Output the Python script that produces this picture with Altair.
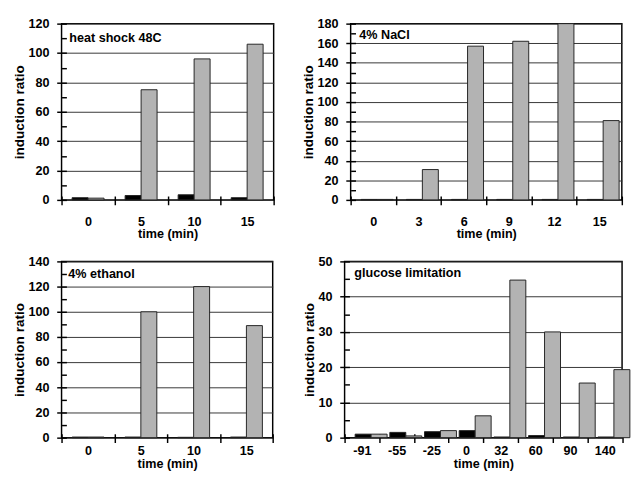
import altair as alt
import pandas as pd

FONT = "Liberation Sans"

# ---- data -------------------------------------------------------------
series_names = ["black", "gray"]

heat_times = ["0", "5", "10", "15"]
heat_black = [1.5, 3.0, 3.5, 1.5]
heat_gray = [1.2, 75, 96, 106]

nacl_times = ["0", "3", "6", "9", "12", "15"]
nacl_black = [0.5, 0.5, 0.5, 0.5, 0.5, 0.5]
nacl_gray = [0.5, 31, 157, 162, 180, 81]

eth_times = ["0", "5", "10", "15"]
eth_black = [0.5, 0.5, 0.3, 0.5]
eth_gray = [0.5, 100, 120, 89]

glc_times = ["-91", "-55", "-25", "0", "32", "60", "90", "140"]
glc_black = [1.0, 1.5, 1.7, 2.0, 0.2, 0.6, 0.2, 0.2]
glc_gray = [1.0, 0.5, 2.0, 6.2, 44.7, 30, 15.5, 19.3]

panel_titles = ["heat shock 48C", "4% NaCl", "4% ethanol", "glucose limitation"]


def frame(times, black, gray):
    rows = []
    for t, b, g in zip(times, black, gray):
        rows.append({"time": t, "series": series_names[0], "value": b})
        rows.append({"time": t, "series": series_names[1], "value": g})
    return pd.DataFrame(rows)


def panel(times, black, gray, title, ymax, ystep, width, height, pad_outer,
          label_pad, title_pad, lab_x, lab_y):
    df = frame(times, black, gray)
    half = ystep // 2
    ticks = list(range(0, ymax + 1, half))
    yscale = alt.Scale(domain=[0, ymax], nice=False, zero=True)
    x = alt.X(
        "time:N", sort=times, title="time (min)",
        scale=alt.Scale(paddingInner=0, paddingOuter=0),
        axis=alt.Axis(
            labelAngle=0, tickBand="extent", domain=False, offset=-4,
            tickSize=9, tickWidth=1.5, tickColor="black",
            labelPadding=label_pad, titlePadding=title_pad,
            labelFont=FONT, labelFontSize=13, labelFontWeight="bold",
            labelColor="black", titleFont=FONT, titleFontSize=13,
            titleFontWeight="bold", titleColor="black",
        ),
    )
    xo = alt.XOffset("series:N", sort=series_names,
                     scale=alt.Scale(paddingOuter=pad_outer, paddingInner=0))
    test = f"datum.value % {ystep} === 0"
    bars = alt.Chart(df).mark_bar(stroke="#222", strokeWidth=1).encode(
        x=x,
        xOffset=xo,
        y=alt.Y(
            "value:Q", scale=yscale, title="induction ratio",
            axis=alt.Axis(
                values=ticks, domain=False, grid=True, gridColor="#333",
                gridWidth=1,
                gridOpacity={"condition": {"test": test, "value": 1}, "value": 0},
                offset=-5,
                tickSize={"condition": {"test": test, "value": 10}, "value": 5},
                tickWidth=1.5, tickColor="black",
                labelExpr=f"datum.value % {ystep} === 0 ? datum.label : ''",
                labelPadding=8, titlePadding=2,
                labelFont=FONT, labelFontSize=13, labelFontWeight="bold",
                labelColor="black", titleFont=FONT, titleFontSize=14,
                titleFontWeight="bold", titleColor="black",
            ),
        ),
        color=alt.Color("series:N", sort=series_names,
                        scale=alt.Scale(domain=series_names,
                                        range=["#000000", "#b3b3b3"]),
                        legend=None),
    )
    label = alt.Chart(pd.DataFrame({"label": [title]})).mark_text(
        align="left", baseline="middle", font=FONT, fontSize=13,
        fontWeight="bold", color="black",
    ).encode(text="label:N", x=alt.value(lab_x), y=alt.value(lab_y))
    return alt.layer(bars, label).properties(width=width, height=height)


p1 = panel(heat_times, heat_black, heat_gray, panel_titles[0], 120, 20,
           219, 182, 0.66, 11, 0, 8, 15)
p2 = panel(nacl_times, nacl_black, nacl_gray, panel_titles[1], 180, 20,
           280, 182, 0.73, 11, 0, 9, 11.5)
p3 = panel(eth_times, eth_black, eth_gray, panel_titles[2], 140, 20,
           218, 182, 0.76, 2.5, 0, 7, 13)
p4 = panel(glc_times, glc_black, glc_gray, panel_titles[3], 50, 10,
           286.5, 182, 0.58, 2.5, 0, 10, 12)

top = alt.hconcat(p1, p2, spacing=25.5)
bottom = alt.hconcat(p3, p4, spacing=27.25)

chart = (
    alt.vconcat(top, bottom, spacing=13.5)
    .properties(padding={"left": 3.3, "top": 1.5, "right": 0, "bottom": 0},
                background="white")
    .configure_view(stroke="black", strokeWidth=1.5)
)

chart.save("out.html", embed_options={"renderer": "svg", "actions": False})
